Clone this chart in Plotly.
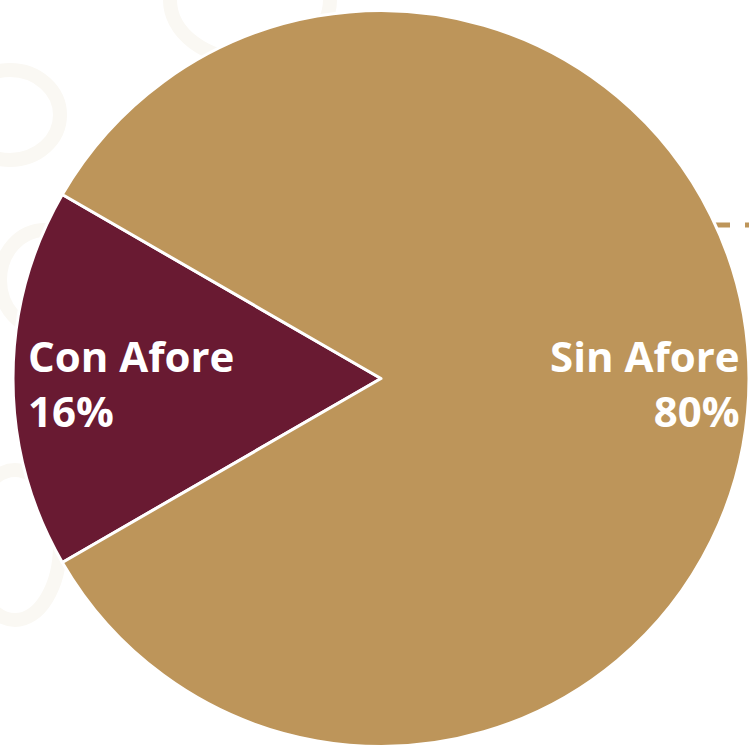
import plotly.graph_objects as go

labels = ["Con Afore", "Sin Afore"]
values = [16, 80]
colors = ["#691A32", "#BD955A"]

W, H = 749, 748

fig = go.Figure()
fig.add_trace(go.Pie(
    labels=labels, values=values, sort=False, direction="clockwise",
    rotation=240, textinfo="none", hoverinfo="label+percent",
    marker=dict(colors=colors, line=dict(color="white", width=3)),
    domain=dict(x=[13 / W, 1], y=[0, 1 - 9 / H]),
    showlegend=False,
))

font = dict(family="Open Sans, Montserrat, sans-serif", size=42, color="white", weight="bold")
fig.add_annotation(x=26 / W, y=1 - 383 / H, xref="paper", yref="paper",
                   xanchor="left", yanchor="middle", align="left",
                   text=f"{labels[0]}<br>{values[0]}%", showarrow=False, font=font)
fig.add_annotation(x=742 / W, y=1 - 383 / H, xref="paper", yref="paper",
                   xanchor="right", yanchor="middle", align="right",
                   text=f"{labels[1]}<br>{values[1]}%", showarrow=False, font=font)

fig.add_shape(type="line", xref="paper", yref="paper", layer="below",
              x0=715 / W, x1=1, y0=1 - 225 / H, y1=1 - 225 / H,
              line=dict(color="#BD955A", width=5, dash="dash"))

# faint background ornament
bg = "#FAF8F3"
for (x0, y0, x1, y1) in [(-40, 70, 60, 160), (0, 230, 90, 330), (-30, 470, 60, 620), (170, -60, 330, 60)]:
    fig.add_shape(type="circle", xref="paper", yref="paper", layer="below",
                  x0=x0 / W, x1=x1 / W, y0=1 - y1 / H, y1=1 - y0 / H,
                  line=dict(color=bg, width=14))

fig.update_layout(width=W, height=H, margin=dict(l=0, r=0, t=0, b=0),
                  paper_bgcolor="white", plot_bgcolor="white")
fig.write_html("out.html")
